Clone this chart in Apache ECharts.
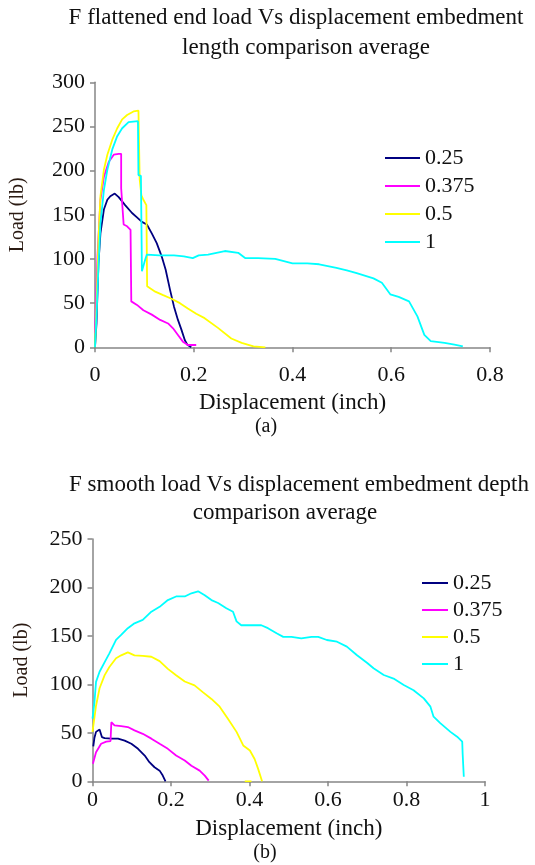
<!DOCTYPE html>
<html>
<head>
<meta charset="utf-8">
<script src="https://cdn.jsdelivr.net/npm/echarts@6/dist/echarts.min.js"></script>
<style>
html,body{margin:0;padding:0;background:#fff;}
#c{width:535px;height:865px;}
</style>
</head>
<body>
<div id="c"></div>
<script>
// ---------- DATA ----------
var seriesNames = ['0.25', '0.375', '0.5', '1'];
var seriesColors = ['#000080', '#FF00FF', '#FFFF00', '#00FFFF'];

// Chart (a): F flattened end, displacement (inch) vs load (lb)
var a_025 = [[0,0],[0.003,27],[0.007,95],[0.011,129],[0.018,156],[0.025,167],[0.031,171],[0.040,174],[0.048,170],[0.061,161],[0.075,152],[0.085,147],[0.095,142],[0.105,139],[0.115,129],[0.125,118],[0.135,103],[0.143,88],[0.152,65],[0.160,46],[0.168,31],[0.175,20],[0.182,8],[0.187,3],[0.195,0]];
var a_0375 = [[0,16],[0.005,103],[0.011,167],[0.018,193],[0.028,210],[0.038,218],[0.048,219],[0.053,219],[0.053,180],[0.057,179],[0.058,139],[0.065,137],[0.072,133],[0.0735,52],[0.085,48],[0.098,42],[0.115,37],[0.132,31],[0.148,27],[0.158,21.5],[0.168,14],[0.178,6.4],[0.188,2.6],[0.205,2.6]];
var a_05 = [[0,0],[0.003,46],[0.007,122],[0.011,171],[0.018,201],[0.025,218],[0.035,235],[0.045,248],[0.055,258],[0.065,263],[0.078,267],[0.088,268],[0.0896,268],[0.0905,190],[0.094,172],[0.098,167],[0.104,161],[0.1056,69],[0.122,63],[0.138,59],[0.155,55],[0.172,50],[0.188,44],[0.205,38],[0.222,33],[0.249,22],[0.276,10],[0.297,5],[0.321,1],[0.345,0]];
var a_1 = [[0,0],[0.003,35],[0.007,91],[0.011,140],[0.018,178],[0.025,201],[0.035,224],[0.045,239],[0.055,248],[0.068,255],[0.087,256],[0.088,195],[0.093,194],[0.095,86],[0.098,86],[0.102,100],[0.105,105],[0.13,104],[0.16,104],[0.18,103],[0.198,101],[0.21,104],[0.229,105],[0.263,109],[0.29,107],[0.304,101],[0.33,101],[0.365,100],[0.40,95],[0.43,95],[0.454,94],[0.489,90],[0.51,87],[0.53,84],[0.564,78],[0.581,73],[0.598,60],[0.615,57],[0.636,52],[0.653,35],[0.667,14],[0.68,7],[0.708,5],[0.728,3],[0.745,1]];

// Chart (b): F smooth
var b_025 = [[0.002,36],[0.005,45],[0.009,51],[0.018,53.5],[0.024,45.6],[0.031,44.6],[0.048,44],[0.065,44],[0.082,42],[0.099,38.7],[0.116,33.5],[0.133,26.6],[0.145,19.7],[0.158,14.5],[0.171,11],[0.179,5.9],[0.186,0]];
var b_0375 = [[0.001,18],[0.009,30],[0.022,38.7],[0.035,41],[0.046,41.5],[0.048,61],[0.056,57.7],[0.073,57],[0.090,56],[0.107,52.5],[0.128,49],[0.150,44],[0.171,38.7],[0.192,33.5],[0.213,26.6],[0.235,21.4],[0.252,16],[0.273,11],[0.286,5.9],[0.296,0.7]];
var b_05 = [[0,51],[0.009,78],[0.018,96],[0.031,109.5],[0.043,118],[0.060,127],[0.073,130],[0.090,133],[0.107,130],[0.128,129.5],[0.150,128.5],[0.171,124],[0.192,116],[0.213,109.5],[0.235,103],[0.260,99],[0.281,92],[0.303,85],[0.324,77],[0.345,64.6],[0.367,51],[0.384,37],[0.401,31.8],[0.413,23],[0.422,12.8],[0.432,0],'-',[0.388,0],[0.405,0]];
var b_1 = [[0,64.6],[0.005,82],[0.009,102.6],[0.018,113],[0.031,123],[0.043,132],[0.060,146],[0.073,151],[0.090,158],[0.107,163],[0.128,166.5],[0.150,175],[0.171,180],[0.192,187],[0.213,190.7],[0.235,190.7],[0.252,194],[0.269,196],[0.286,192],[0.303,187],[0.320,184],[0.341,178.6],[0.358,175],[0.367,165],[0.379,161],[0.396,161],[0.413,161],[0.430,161],[0.447,158],[0.469,152.7],[0.486,149],[0.507,149],[0.532,147.5],[0.558,149],[0.575,149],[0.597,145.8],[0.623,144],[0.648,139],[0.674,130],[0.70,122],[0.716,116.6],[0.742,109.7],[0.767,106],[0.793,99.4],[0.818,94],[0.844,85.6],[0.861,77],[0.869,66.7],[0.886,60],[0.912,51],[0.929,46],[0.942,40.9],[0.943,29],[0.946,4.7]];

var a_xTicks = {min: 0, max: 0.8, interval: 0.2};
var a_yTicks = {min: 0, max: 300, interval: 50};
var b_xTicks = {min: 0, max: 1, interval: 0.2};
var b_yTicks = {min: 0, max: 250, interval: 50};

var titleA = ['F flattened end load Vs displacement embedment', 'length comparison average'];
var titleB = ['F smooth load Vs displacement embedment depth', 'comparison average'];
var xName = 'Displacement (inch)';
var yName = 'Load (lb)';

// ---------- CHART ----------
var FONT = '"Liberation Serif", "Times New Roman", serif';
var axisCol = '#868686';

function xAxis(gi, t, margin, gap) {
  return {
    type: 'value', gridIndex: gi, min: t.min, max: t.max, interval: t.interval,
    name: xName, nameLocation: 'middle', nameGap: gap,
    nameTextStyle: {fontFamily: FONT, fontSize: 23, color: '#111'},
    axisLine: {show: true, lineStyle: {color: axisCol, width: 1.5}},
    axisTick: {show: true, inside: false, length: 5, lineStyle: {color: axisCol, width: 1.5}},
    splitLine: {show: false},
    axisLabel: {fontFamily: FONT, fontSize: 22, color: '#111', margin: margin,
      formatter: function (v) { return String(+v.toFixed(2)); }}
  };
}
function yAxis(gi, t, gap) {
  return {
    type: 'value', gridIndex: gi, min: t.min, max: t.max, interval: t.interval,
    name: yName, nameLocation: 'middle', nameGap: gap, nameRotate: 90,
    nameTextStyle: {fontFamily: FONT, fontSize: 20, color: '#2a1a12'},
    axisLine: {show: true, lineStyle: {color: axisCol, width: 1.5}},
    axisTick: {show: true, inside: false, length: 5, lineStyle: {color: axisCol, width: 1.5}},
    splitLine: {show: false},
    axisLabel: {fontFamily: FONT, fontSize: 22, color: '#111', margin: 10}
  };
}
function line(name, data, color, gi) {
  return {
    type: 'line', name: name, data: data, xAxisIndex: gi, yAxisIndex: gi,
    showSymbol: false, symbol: 'none', animation: false,
    lineStyle: {color: color, width: 1.8}, itemStyle: {color: color},
    connectNulls: false
  };
}

var aData = [a_025, a_0375, a_05, a_1];
var bData = [b_025, b_0375, b_05, b_1];
var series = [];
for (var i = 0; i < 4; i++) series.push(line(seriesNames[i], aData[i], seriesColors[i], 0));
for (var j = 0; j < 4; j++) series.push(line(seriesNames[j], bData[j], seriesColors[j], 1));

var chart = echarts.init(document.getElementById('c'), null, {renderer: 'canvas'});
chart.setOption({
  animation: false,
  backgroundColor: '#fff',
  grid: [
    {left: 91, top: 82.3, width: 399, height: 265},
    {left: 92.5, top: 539, width: 392.5, height: 242.3}
  ],
  xAxis: [xAxis(0, a_xTicks, 17, 44), xAxis(1, b_xTicks, 8, 36)],
  yAxis: [yAxis(0, a_yTicks, 67), yAxis(1, b_yTicks, 61)],
  legend: [
    {orient: 'vertical', left: 380, top: 142, icon: 'rect', itemWidth: 35, itemHeight: 2, itemGap: 6,
     data: seriesNames, selectedMode: false,
     textStyle: {fontFamily: FONT, fontSize: 22, lineHeight: 22, color: '#111'}},
    {orient: 'vertical', left: 417, top: 567, icon: 'rect', itemWidth: 26, itemHeight: 2, itemGap: 5,
     data: seriesNames, selectedMode: false,
     textStyle: {fontFamily: FONT, fontSize: 22, lineHeight: 22, color: '#111'}}
  ],
  graphic: [
    {type: 'text', x: 296, y: 18, style: {text: titleA[0], font: '23px ' + FONT, fill: '#111', textAlign: 'center', textVerticalAlign: 'middle'}},
    {type: 'text', x: 306, y: 48, style: {text: titleA[1], font: '23px ' + FONT, fill: '#111', textAlign: 'center', textVerticalAlign: 'middle'}},
    {type: 'text', x: 299, y: 485, style: {text: titleB[0], font: '23px ' + FONT, fill: '#111', textAlign: 'center', textVerticalAlign: 'middle'}},
    {type: 'text', x: 285, y: 513, style: {text: titleB[1], font: '23px ' + FONT, fill: '#111', textAlign: 'center', textVerticalAlign: 'middle'}},
    {type: 'text', x: 266, y: 427, style: {text: '(a)', font: '20px ' + FONT, fill: '#111', textAlign: 'center', textVerticalAlign: 'middle'}},
    {type: 'text', x: 265, y: 853, style: {text: '(b)', font: '20px ' + FONT, fill: '#111', textAlign: 'center', textVerticalAlign: 'middle'}}
  ],
  series: series
});
</script>
</body>
</html>
